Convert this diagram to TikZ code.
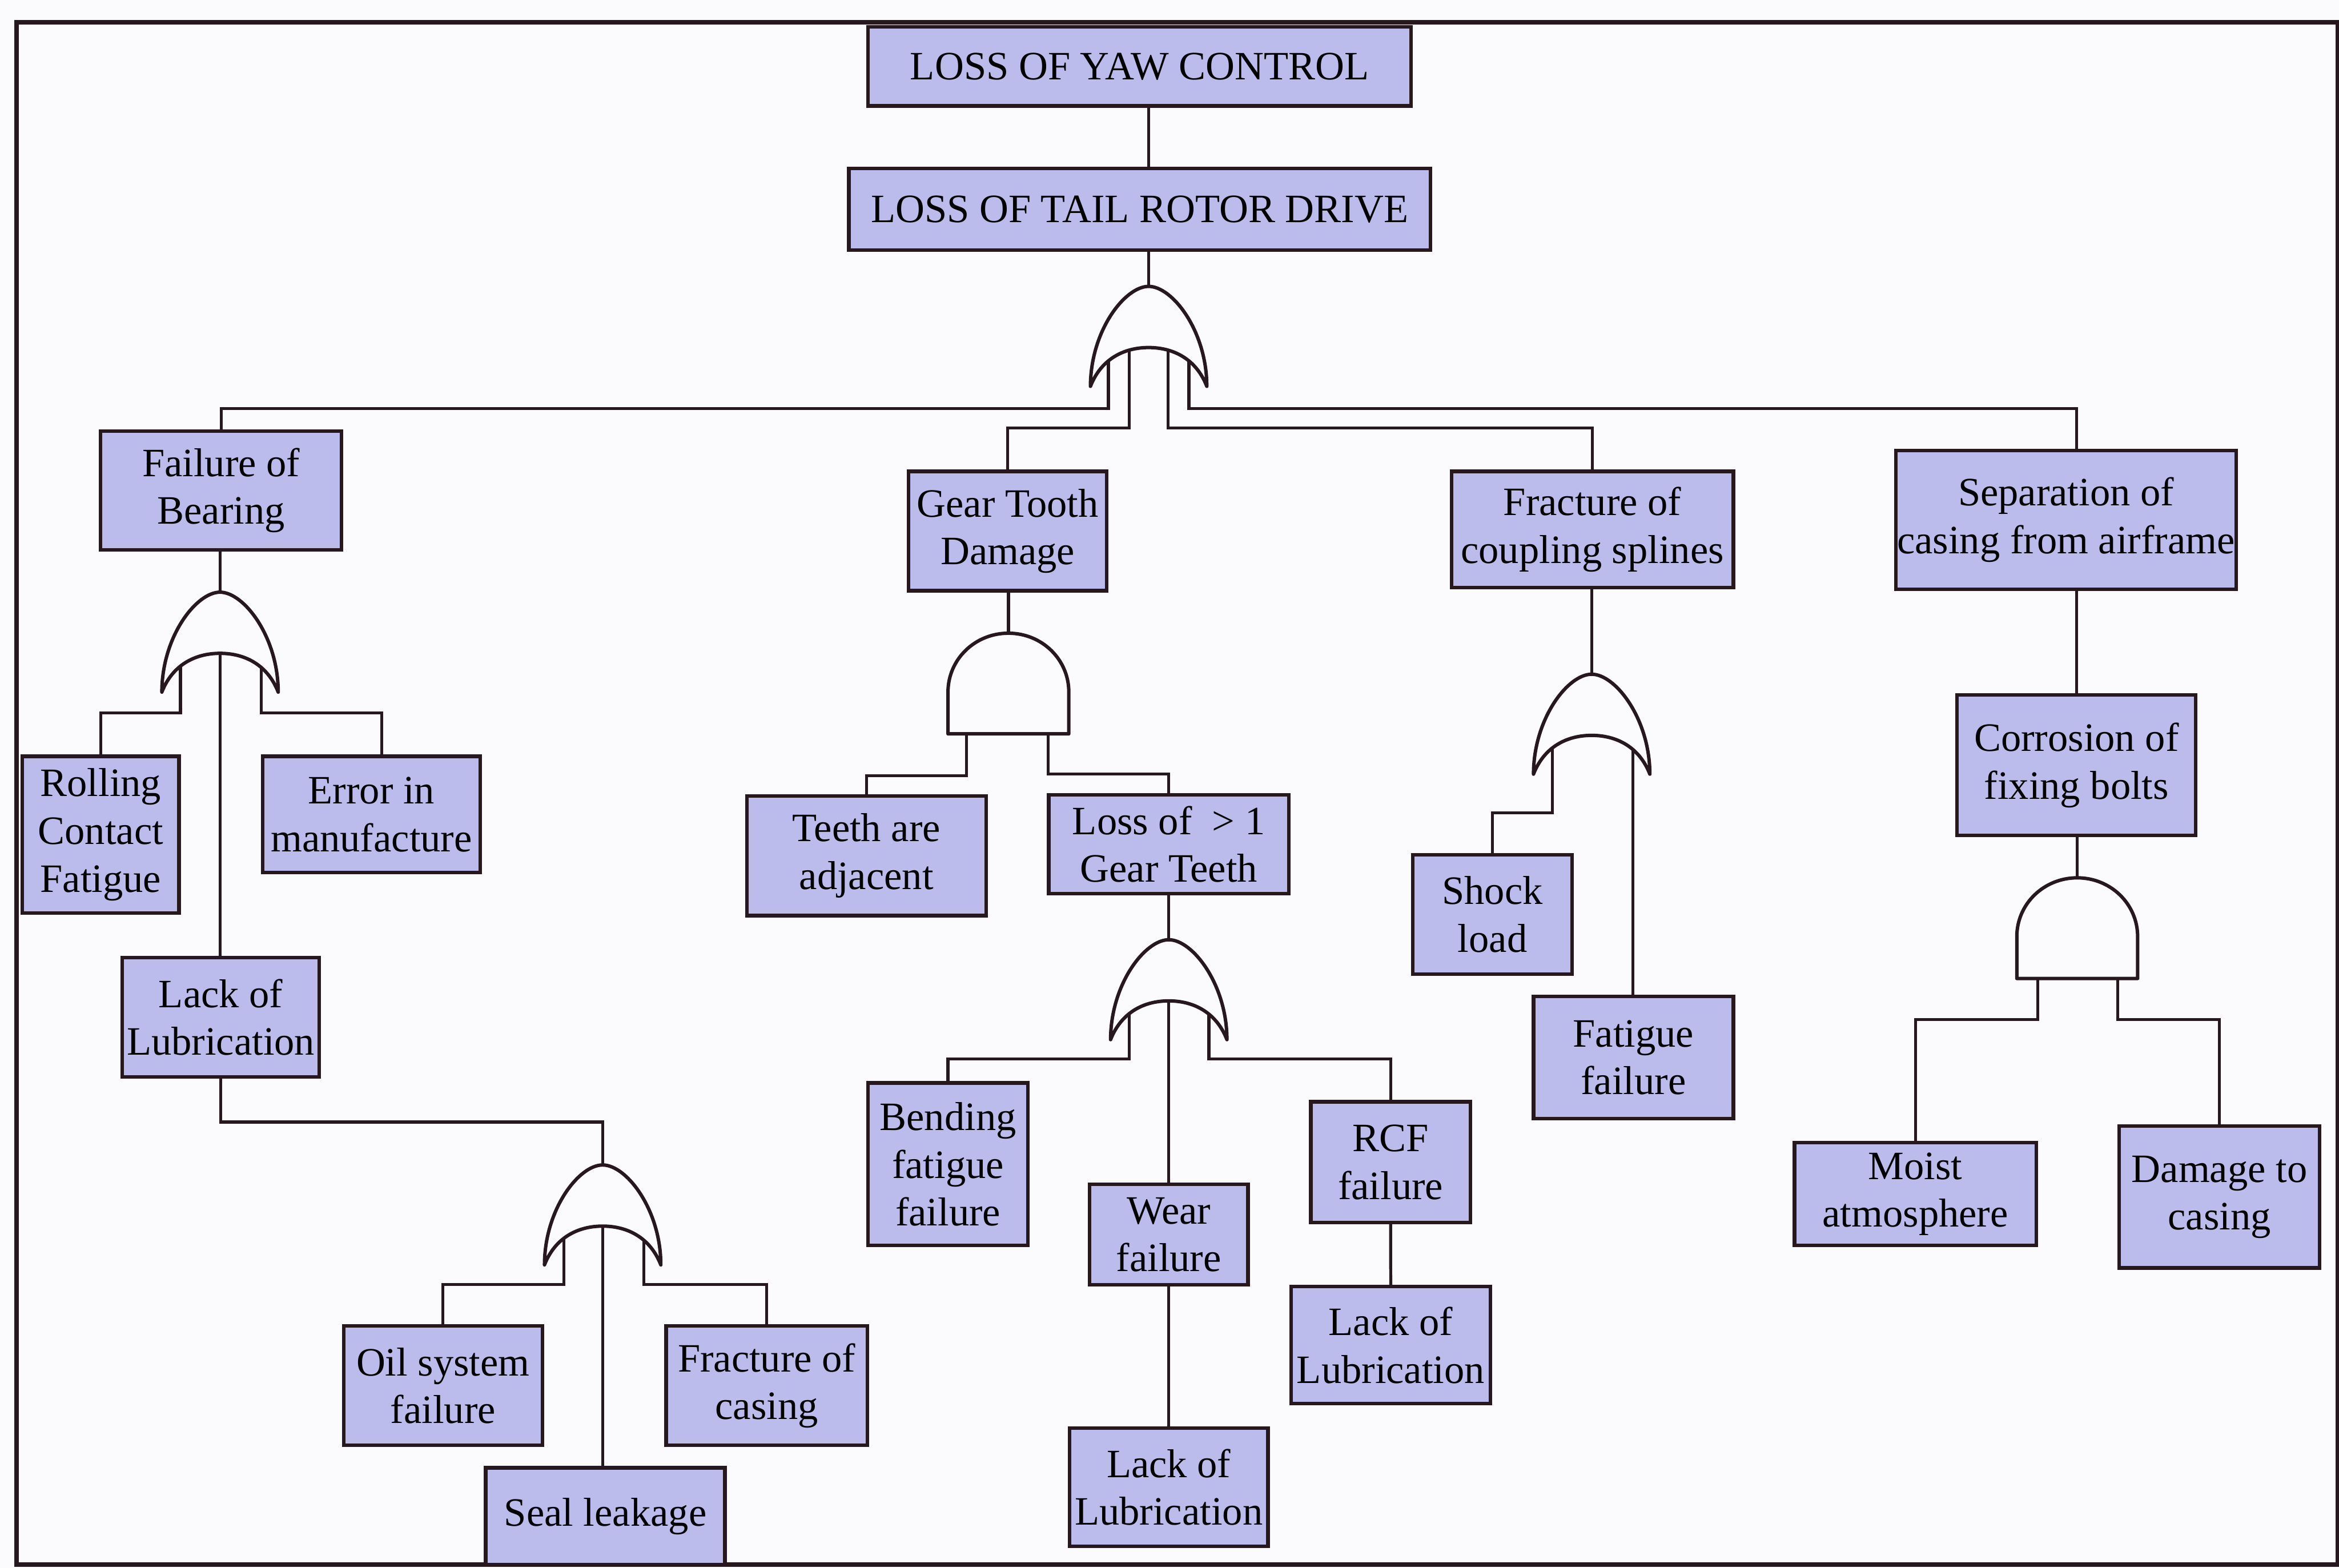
\documentclass[tikz,border=0pt]{standalone}
\usepackage{fontspec}
\setmainfont{Liberation Serif}

\definecolor{ink}{RGB}{38,24,28}
\definecolor{boxfill}{RGB}{188,188,236}
\definecolor{paper}{RGB}{251,250,253}

\tikzset{
  box/.style={draw=ink, line width=2.4pt, fill=boxfill, inner sep=0pt,
    align=center, text=black, font=\fontsize{27pt}{32pt}\selectfont},
  wire/.style={draw=ink, line width=2pt},
  gateline/.style={draw=ink, line width=2.3pt, fill=paper, line join=round},
  % OR gate, origin at the level of the two bottom tips
  orgate/.pic={
    \path[gateline] (-39,0) .. controls (-39,-37) and (-16,-67) .. (0,-67)
      .. controls (16,-67) and (39,-37) .. (39,0)
      .. controls (32,-18) and (17,-26) .. (0,-26)
      .. controls (-17,-26) and (-32,-18) .. (-39,0) -- cycle;
  },
  % AND gate, origin at the middle of the flat base
  andgate/.pic={
    \path[gateline] (-40.5,0) -- (-40.5,-28)
      .. controls (-40.5,-50) and (-22.4,-67.5) .. (0,-67.5)
      .. controls (22.4,-67.5) and (40.5,-50) .. (40.5,-28)
      -- (40.5,0) -- cycle;
  },
}

\begin{document}
\begin{tikzpicture}[x=1pt, y=-1pt]
  \useasboundingbox (0,0) rectangle (1568,1051);
  \fill[paper] (0,0) rectangle (1568,1051);
  \draw[ink, line width=3pt] (11,15) rectangle (1567,1049);

  % gate pins
  \coordinate (g1top) at (770,192);
  \coordinate (g1a) at (743,233);
  \coordinate (g1b) at (757,233);
  \coordinate (g1c) at (783,233);
  \coordinate (g1d) at (797,233);
  \coordinate (g2top) at (147.5,397);
  \coordinate (g2a) at (121,438);
  \coordinate (g2b) at (147.5,438);
  \coordinate (g2c) at (175,438);
  \coordinate (g3top) at (404,781);
  \coordinate (g3a) at (378,822);
  \coordinate (g3b) at (404,822);
  \coordinate (g3c) at (431.5,822);
  \coordinate (g4top) at (676,424.5);
  \coordinate (g4a) at (648,492);
  \coordinate (g4b) at (702.5,492);
  \coordinate (g5top) at (783.5,630);
  \coordinate (g5a) at (757,671);
  \coordinate (g5b) at (783.5,671);
  \coordinate (g5c) at (810.4,671);
  \coordinate (g6top) at (1067,452);
  \coordinate (g6a) at (1040.6,493);
  \coordinate (g6c) at (1094.7,493);
  \coordinate (g7top) at (1392.5,588.5);
  \coordinate (g7a) at (1366,656);
  \coordinate (g7b) at (1419.5,656);

  % events
  \node[box, minimum width=364pt, minimum height=53pt] (yaw) at (764,44.5) {LOSS OF YAW CONTROL};
  \node[box, minimum width=390pt, minimum height=54.6pt] (trd) at (764,140.3) {LOSS OF TAIL ROTOR DRIVE};
  \node[box, minimum width=161.7pt, minimum height=79.5pt] (fob) at (148.2,328.8) {Failure of\\Bearing};
  \node[box, minimum width=133pt, minimum height=80pt] (gtd) at (675.5,356) {Gear Tooth\\Damage};
  \node[box, minimum width=189pt, minimum height=78pt] (fcs) at (1067.5,355) {Fracture of\\coupling splines};
  \node[box, minimum width=228pt, minimum height=93pt] (sep) at (1385,348.5) {Separation of\\casing from airframe};
  \node[box, minimum width=105pt, minimum height=105pt] (rcf1) at (67.5,559.5) {Rolling\\Contact\\Fatigue};
  \node[box, minimum width=146pt, minimum height=78pt] (eim) at (249,546) {Error in\\manufacture};
  \node[box, minimum width=132pt, minimum height=80pt] (lol1) at (148,682) {Lack of\\Lubrication};
  \node[box, minimum width=133.3pt, minimum height=80pt] (osf) at (297,929) {Oil system\\failure};
  \node[box, minimum width=135pt, minimum height=80pt] (foc) at (514,929) {Fracture of\\casing};
  \node[box, minimum width=160.4pt, minimum height=65pt] (seal) at (405.8,1016.5) {Seal leakage};
  \node[box, minimum width=160.4pt, minimum height=80.2pt] (tad) at (580.8,573.7) {Teeth are\\adjacent};
  \node[box, minimum width=161pt, minimum height=66pt] (lgt) at (783.5,566) {Loss of \ > 1\\Gear Teeth};
  \node[box, minimum width=107pt, minimum height=109pt] (bff) at (635.5,780.5) {Bending\\fatigue\\failure};
  \node[box, minimum width=106.3pt, minimum height=67.5pt] (wear) at (783.5,827.7) {Wear\\failure};
  \node[box, minimum width=107pt, minimum height=81pt] (rcf) at (932.2,779.1) {RCF\\failure};
  \node[box, minimum width=133.4pt, minimum height=78.4pt] (lol3) at (932.3,901.8) {Lack of\\Lubrication};
  \node[box, minimum width=133pt, minimum height=79.3pt] (lol2) at (783.5,997) {Lack of\\Lubrication};
  \node[box, minimum width=107pt, minimum height=80pt] (shock) at (1000.5,613) {Shock\\load};
  \node[box, minimum width=134pt, minimum height=82pt] (fat) at (1095,709) {Fatigue\\failure};
  \node[box, minimum width=160pt, minimum height=94pt] (corr) at (1392,513) {Corrosion of\\fixing bolts};
  \node[box, minimum width=162pt, minimum height=69pt] (moist) at (1284,800.5) {Moist\\atmosphere};
  \node[box, minimum width=134.4pt, minimum height=95pt] (dmg) at (1487.8,802.5) {Damage to\\casing};

  % connectors
  \draw[wire] (g1top |- yaw.south) -- (g1top |- trd.north);
  \draw[wire] (g1top |- trd.south) -- (g1top);
  \draw[wire] (g1a) -- ++(0,41) -| (fob.north);
  \draw[wire] (g1b) -- ++(0,54) -| (gtd.north);
  \draw[wire] (g1c) -- ++(0,54) -| (fcs.north);
  \draw[wire] (g1d) -- ++(0,41) -| ([xshift=7pt]sep.north);

  \draw[wire] (fob.south -| g2top) -- (g2top);
  \draw[wire] (g2a) -- ++(0,40) -| (rcf1.north);
  \draw[wire] (g2c) -- ++(0,40) -| ([xshift=7pt]eim.north);
  \draw[wire] (g2b) -- (g2b |- lol1.north);

  \draw[wire] (lol1.south) -- ++(0,29) -| (g3top);
  \draw[wire] (g3a) -- ++(0,39) -| (osf.north);
  \draw[wire] (g3c) -- ++(0,39) -| (foc.north);
  \draw[wire] (g3b) -- (g3b |- seal.north);

  \draw[wire] (gtd.south -| g4top) -- (g4top);
  \draw[wire] (g4a) -- ++(0,28) -| (tad.north);
  \draw[wire] (g4b) -- ++(0,27) -| (lgt.north);
  \draw[wire] (lgt.south) -- (g5top);
  \draw[wire] (g5a) -- ++(0,39) -| (bff.north);
  \draw[wire] (g5c) -- ++(0,39) -| (rcf.north);
  \draw[wire] (g5b) -- (wear.north);
  \draw[wire] (wear.south) -- (lol2.north);
  \draw[wire] (rcf.south) -- (lol3.north);

  \draw[wire] (fcs.south -| g6top) -- (g6top);
  \draw[wire] (g6a) -- ++(0,52) -| (shock.north);
  \draw[wire] (g6c) -- (g6c |- fat.north);

  \draw[wire] ([xshift=7pt]sep.south) -- (corr.north);
  \draw[wire] (corr.south -| g7top) -- (g7top);
  \draw[wire] (g7a) -- ++(0,27.5) -| (moist.north);
  \draw[wire] (g7b) -- ++(0,27.5) -| (dmg.north);

  % gates
  \pic at (770,259) {orgate};
  \pic at (147.5,464) {orgate};
  \pic at (404,848) {orgate};
  \pic at (676,492) {andgate};
  \pic at (783.5,697) {orgate};
  \pic at (1067,519) {orgate};
  \pic at (1392.5,656) {andgate};
\end{tikzpicture}
\end{document}
